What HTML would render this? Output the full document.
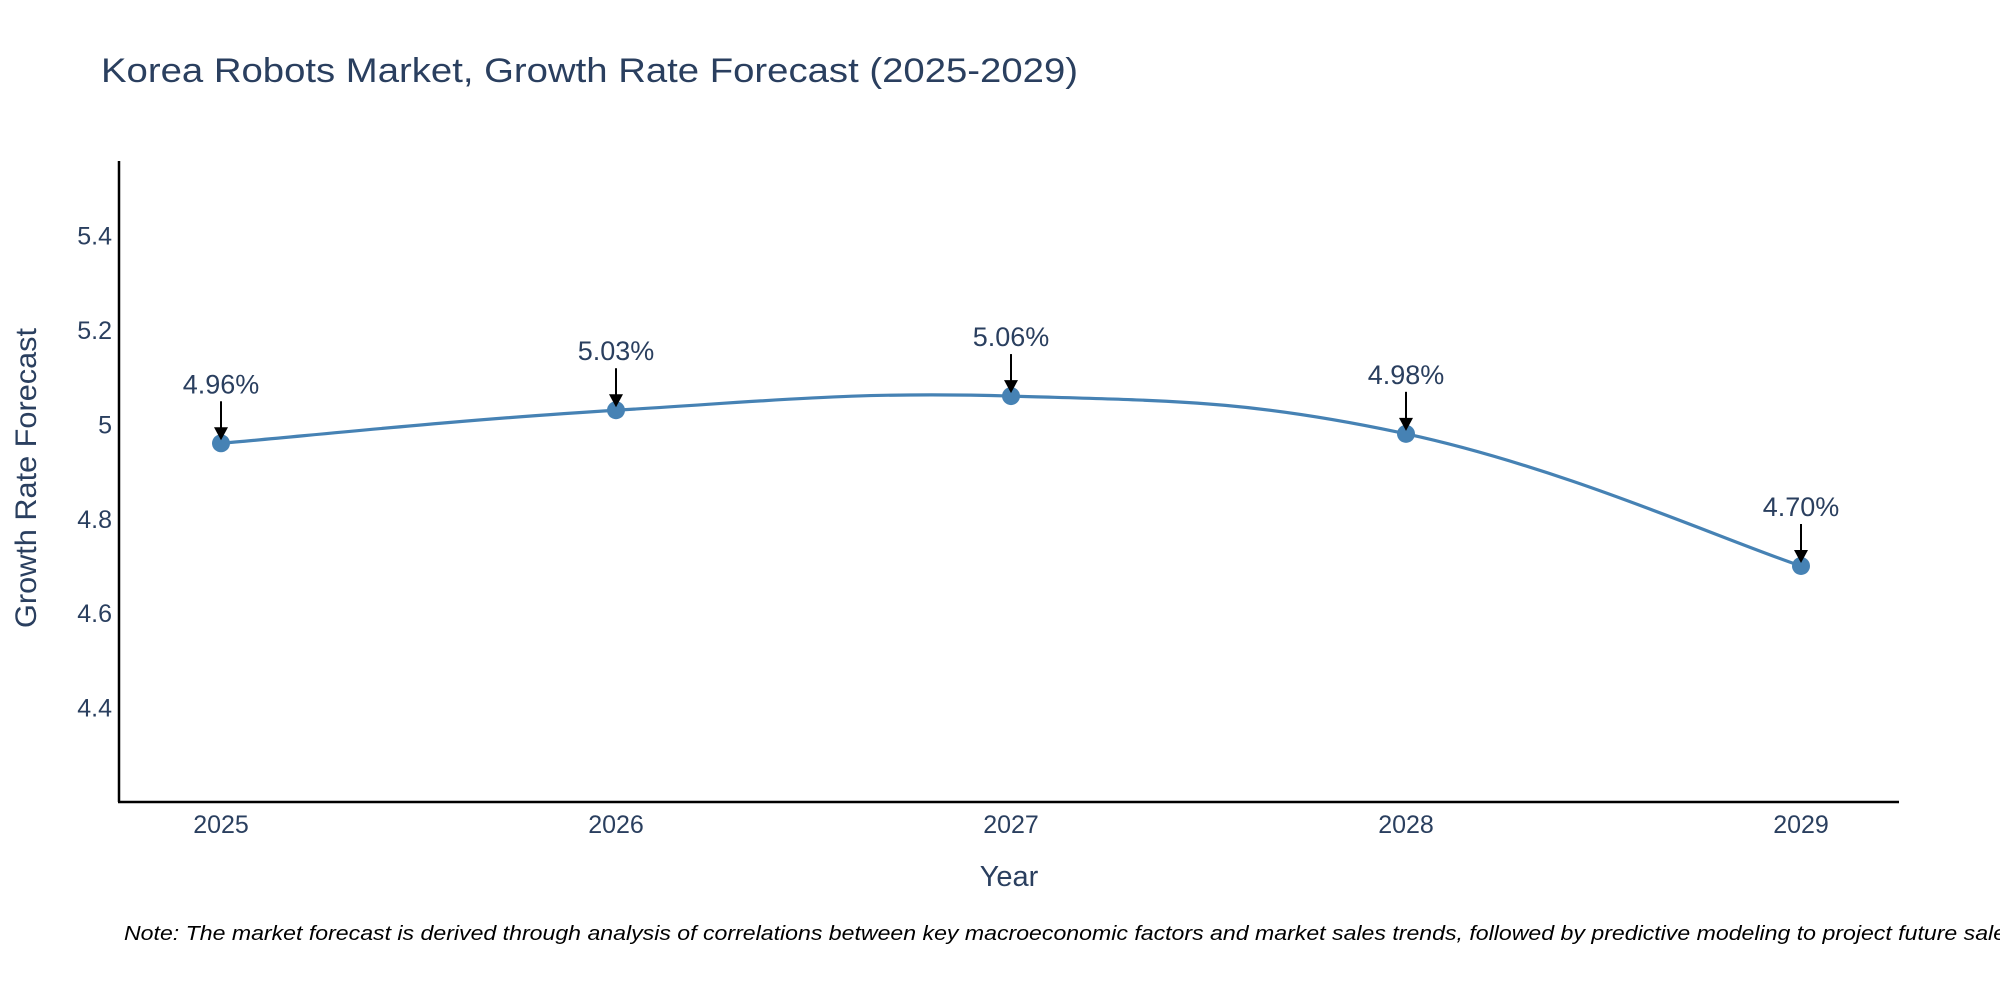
<!DOCTYPE html>
<html><head><meta charset="utf-8"><style>
body{margin:0;background:#fff;}
svg{display:block;font-family:"Liberation Sans","DejaVu Sans",sans-serif;}
</style></head><body>
<svg id="chart" width="2000" height="1000" viewBox="0 0 2000 1000">
<text x="101" y="82" font-size="34" fill="#2a3f5f" textLength="977" lengthAdjust="spacingAndGlyphs">Korea Robots Market, Growth Rate Forecast (2025-2029)</text>
<g id="yticks"></g>
<g id="xticks"></g>
<path id="line" fill="none" stroke="#4682b4" stroke-width="3.2"></path>
<g id="points"></g>
<g id="annos"></g>
<line x1="119" y1="161" x2="119" y2="802" stroke="#000" stroke-width="2.5"/>
<line x1="118" y1="802" x2="1899" y2="802" stroke="#000" stroke-width="2.5"/>
<text transform="translate(36,478) rotate(-90)" text-anchor="middle" font-size="30" fill="#2a3f5f" textLength="300" lengthAdjust="spacingAndGlyphs">Growth Rate Forecast</text>
<text x="1009" y="886" text-anchor="middle" font-size="29" fill="#2a3f5f">Year</text>
<text x="124" y="940" font-size="20" font-style="italic" fill="#000" textLength="1900" lengthAdjust="spacingAndGlyphs">Note: The market forecast is derived through analysis of correlations between key macroeconomic factors and market sales trends, followed by predictive modeling to project future sales.</text>
</svg>
<script>
const years = [2025, 2026, 2027, 2028, 2029];
const growth = [4.96, 5.03, 5.06, 4.98, 4.70];
const labels = ["4.96%", "5.03%", "5.06%", "4.98%", "4.70%"];
const yTicks = [4.4, 4.6, 4.8, 5, 5.2, 5.4];
const yTickLabels = ["4.4", "4.6", "4.8", "5", "5.2", "5.4"];

const NS = "http://www.w3.org/2000/svg";
const X0 = 221, X1 = 1801, Y0 = 802, Y1 = 161, VMIN = 4.2, VMAX = 5.558;
function xs(y){ return X0 + (y - years[0]) / (years[years.length-1] - years[0]) * (X1 - X0); }
function ys(v){ return Y0 - (v - VMIN) / (VMAX - VMIN) * (Y0 - Y1); }
function mk(tag, attrs, parent){ const e = document.createElementNS(NS, tag); for (const k in attrs) e.setAttribute(k, attrs[k]); parent.appendChild(e); return e; }

const yg = document.getElementById('yticks');
yTicks.forEach((t, i) => {
  const e = mk('text', {x: 112, y: ys(t) + 9, 'text-anchor': 'end', 'font-size': 25, fill: '#2a3f5f'}, yg);
  
  
  e.textContent = yTickLabels[i];
});
const xg = document.getElementById('xticks');
years.forEach(yr => {
  const e = mk('text', {x: xs(yr), y: 833, 'text-anchor': 'middle', 'font-size': 25, fill: '#2a3f5f'}, xg);
  
  
  e.textContent = String(yr);
});

const P = years.map((yr, i) => [xs(yr), ys(growth[i])]);
let d = 'M' + P[0][0] + ',' + P[0][1];
const s = 0.2;
for (let i = 0; i < P.length - 1; i++) {
  const p0 = P[Math.max(i-1,0)], p1 = P[i], p2 = P[i+1], p3 = P[Math.min(i+2,P.length-1)];
  const c1 = [p1[0] + (p2[0]-p0[0])*s, p1[1] + (p2[1]-p0[1])*s];
  const c2 = [p2[0] - (p3[0]-p1[0])*s, p2[1] - (p3[1]-p1[1])*s];
  d += ' C' + c1.join(',') + ' ' + c2.join(',') + ' ' + p2.join(',');
}
document.getElementById('line').setAttribute('d', d);

const pg = document.getElementById('points'), ag = document.getElementById('annos');
P.forEach((p, i) => {
  const c = mk('circle', {cx: p[0], cy: p[1], r: 9, fill: '#4682b4'}, pg);
  
  
  const l = mk('line', {x1: p[0], y1: p[1] - 42, x2: p[0], y2: p[1] - 14, stroke: '#000', 'stroke-width': 2}, ag);
  
  
  const h = mk('polygon', {points: (p[0]-7)+','+(p[1]-16)+' '+(p[0]+7)+','+(p[1]-16)+' '+p[0]+','+(p[1]-3), fill: '#000'}, ag);
  
  
  const t = mk('text', {x: p[0], y: p[1] - 50, 'text-anchor': 'middle', 'font-size': 27, fill: '#2a3f5f'}, ag);
  
  
  t.textContent = labels[i];
});
</script>
</body></html>
